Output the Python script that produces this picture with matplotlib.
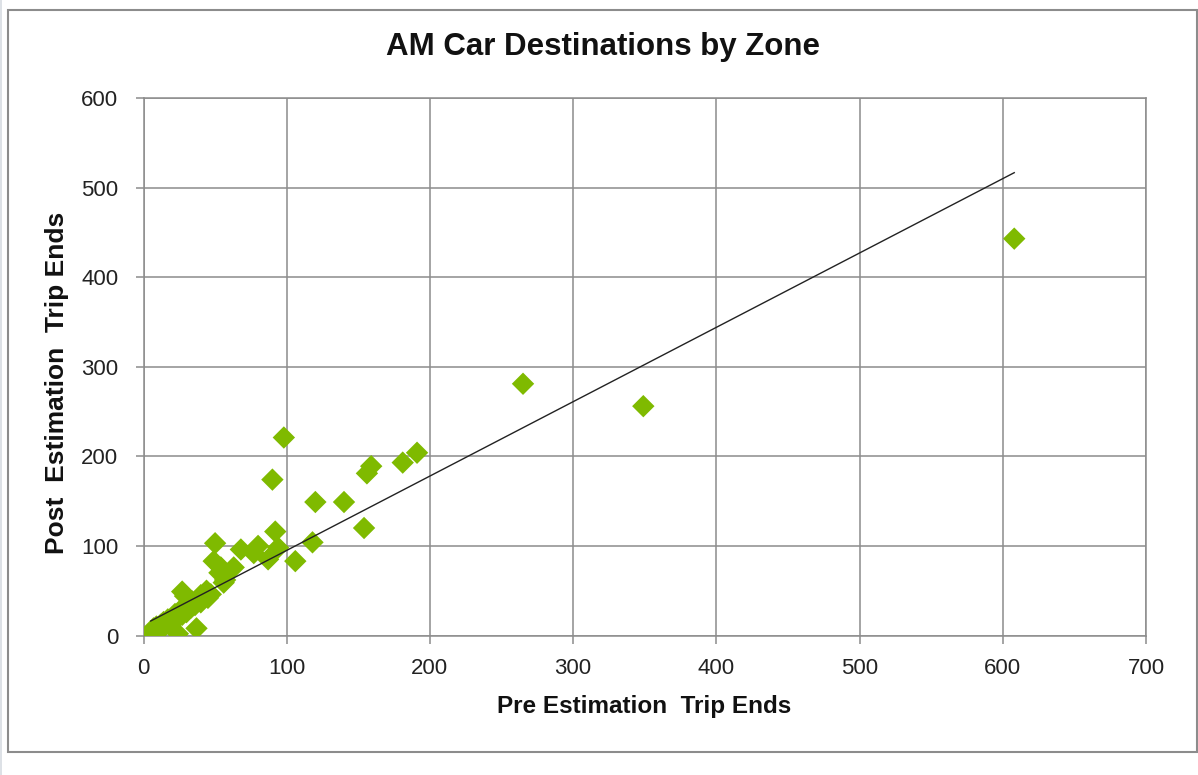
# AM car destinations by zone - scatter of pre vs post estimation trip ends
import numpy as np
from matplotlib import pyplot as plt
from matplotlib.patches import Rectangle

plt.rcParams['font.family'] = ['Liberation Sans', 'DejaVu Sans']

# zone trip ends
pre_trip_ends = [608, 265, 349, 98, 90, 159, 156, 181, 191, 120, 140, 154, 92,
                 50, 68, 80, 77, 87, 94, 106, 118, 49, 54, 63, 57, 56, 53,
                 24, 37, 27, 29, 44, 40,
                 5, 7, 8, 9, 10, 12, 13, 14, 15, 17, 18, 20, 21, 22, 24, 25,
                 27, 28, 30, 31, 33, 34, 36, 38, 40, 42, 45, 47]
post_trip_ends = [443, 281, 256, 221, 174, 189, 181, 193, 204, 149, 149, 120, 116,
                  103, 96, 100, 92, 85, 98, 83, 104, 83, 76, 76, 62, 59, 70,
                  2, 8, 49, 44, 50, 45,
                  3, 8, 5, 10, 7, 12, 9, 15, 11, 18, 14, 20, 16, 24, 20, 27,
                  23, 30, 26, 35, 31, 38, 34, 40, 37, 44, 42, 46]

# linear trend line shown on the chart
trend_slope = 0.83
trend_intercept = 12.0

x_ticks = [0, 100, 200, 300, 400, 500, 600, 700]
y_ticks = [0, 100, 200, 300, 400, 500, 600]

fig = plt.figure(figsize=(11.98, 7.75), dpi=100)
fig.patch.set_facecolor("white")

# outer chart frame + light strip on the left edge
fig.patches.append(Rectangle((0, 0), 0.002, 1, transform=fig.transFigure,
                             facecolor="#dde1e6", edgecolor="none"))
fig.patches.append(Rectangle((8 / 1198, 1 - 752 / 775), (1197 - 8) / 1198, (752 - 10) / 775,
                             transform=fig.transFigure, facecolor="none",
                             edgecolor="#8c8c8c", linewidth=1.5))

ax = fig.add_axes([143.5 / 1198, 1 - 635.5 / 775, (1146 - 143.5) / 1198, (635.5 - 98) / 775])

ax.scatter(pre_trip_ends, post_trip_ends, marker="D", s=130, color="#7fba00",
           edgecolors="none", zorder=3)

tx = np.array([min(pre_trip_ends), max(pre_trip_ends)])
ax.plot(tx, trend_slope * tx + trend_intercept, color="#222222", linewidth=1.0, zorder=4)

ax.set_xlim(0, 700)
ax.set_ylim(0, 600)
ax.set_xticks(x_ticks)
ax.set_yticks(y_ticks)
ax.grid(True, color="#8c8c8c", linewidth=1.1, zorder=0)
ax.set_axisbelow(True)
for s in ax.spines.values():
    s.set_color("#8c8c8c")
    s.set_linewidth(1.1)
ax.tick_params(axis="both", direction="out", color="#8c8c8c", width=1.1,
               labelsize=16, labelcolor="#222222")
ax.tick_params(axis="x", length=6, pad=10)
ax.tick_params(axis="y", length=6, pad=12)

fig.text(0.5035, 1 - 47 / 775, "AM Car Destinations by Zone", ha="center", va="center",
         fontsize=22.5, fontweight="bold", color="#111111")
fig.text(644 / 1198, 1 - 706 / 775, "Pre Estimation  Trip Ends", ha="center", va="center",
         fontsize=17.5, fontweight="bold", color="#111111")
fig.text(57 / 1198, 1 - 383 / 775, "Post  Estimation  Trip Ends", ha="center", va="center",
         rotation=90, fontsize=19, fontweight="bold", color="#111111")

fig.savefig("out.png", dpi=100)
